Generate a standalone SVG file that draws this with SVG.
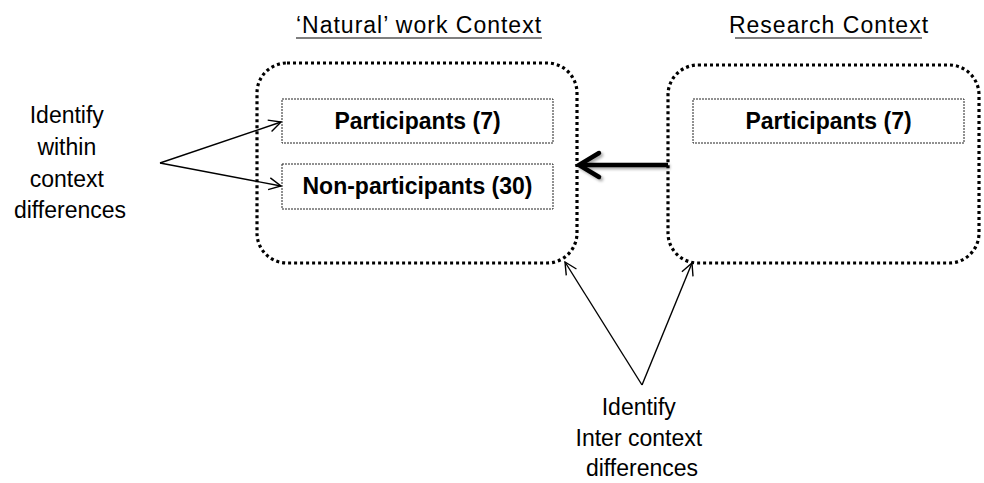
<svg xmlns="http://www.w3.org/2000/svg" width="984" height="483" viewBox="0 0 984 483">
  <style>
    .txt { font-family: "Liberation Sans", Arial, sans-serif; font-size: 23px; fill: #000; }
    .bold { font-weight: bold; }
    .title { letter-spacing: 1px; }
    .ctx { fill: none; stroke: #000; stroke-width: 3.2; stroke-dasharray: 3 3; }
    .box { fill: #fff; stroke: #222; stroke-width: 1; stroke-dasharray: 2 1; }
    .thin { fill: none; stroke: #000; stroke-width: 1.4; marker-end: url(#open); }
    .under { stroke: #000; stroke-width: 1.2; }
  </style>
  <defs>
    <marker id="open" viewBox="0 0 14 14" refX="13" refY="7" markerWidth="14" markerHeight="14" markerUnits="userSpaceOnUse" orient="auto">
      <path d="M1,1 L13,7 L1,13" fill="none" stroke="#000" stroke-width="1.4"/>
    </marker>
    <filter id="shadow" x="-20%" y="-50%" width="140%" height="200%">
      <feGaussianBlur in="SourceAlpha" stdDeviation="1.5"/>
      <feOffset dx="1.5" dy="2" result="b"/>
      <feComponentTransfer><feFuncA type="linear" slope="0.35"/></feComponentTransfer>
      <feMerge><feMergeNode/><feMergeNode in="SourceGraphic"/></feMerge>
    </filter>
  </defs>

  <rect width="984" height="483" fill="#fff"/>

  <!-- Context titles -->
  <g id="title-natural">
    <text class="txt title" x="419" y="33" text-anchor="middle">‘Natural’ work Context</text>
    <line class="under" x1="296" y1="38" x2="542" y2="38"/>
  </g>
  <g id="title-research">
    <text class="txt title" x="829" y="33" text-anchor="middle">Research Context</text>
    <line class="under" x1="735" y1="38" x2="922" y2="38"/>
  </g>

  <!-- Natural work context -->
  <g id="ctx-natural">
    <rect class="ctx" x="257" y="63" width="320" height="200" rx="30" ry="30"/>
  </g>
  <g id="natural-participants">
    <rect class="box" x="282" y="99" width="271" height="44"/>
    <text class="txt bold" x="417.5" y="129" text-anchor="middle">Participants (7)</text>
  </g>
  <g id="natural-nonparticipants">
    <rect class="box" x="282" y="164" width="271" height="45"/>
    <text class="txt bold" x="417.5" y="194" text-anchor="middle">Non-participants (30)</text>
  </g>

  <!-- Research context -->
  <g id="ctx-research">
    <rect class="ctx" x="668" y="65" width="311" height="198" rx="30" ry="30"/>
  </g>
  <g id="research-participants">
    <rect class="box" x="693" y="99" width="271" height="44"/>
    <text class="txt bold" x="828.5" y="129" text-anchor="middle">Participants (7)</text>
  </g>

  <!-- Annotations -->
  <g id="label-within">
    <text class="txt" text-anchor="middle">
      <tspan x="70" y="123">Identify</tspan>
      <tspan x="70" y="155">within</tspan>
      <tspan x="70" y="187">context</tspan>
      <tspan x="70" y="218">differences</tspan>
    </text>
  </g>
  <g id="label-inter">
    <text class="txt" text-anchor="middle">
      <tspan x="642" y="415">Identify</tspan>
      <tspan x="642" y="446">Inter context</tspan>
      <tspan x="642" y="476">differences</tspan>
    </text>
  </g>

  <!-- Connectors -->
  <g id="connectors">
    <g filter="url(#shadow)">
      <line x1="668" y1="165" x2="580" y2="165" stroke="#000" stroke-width="4.5"/>
      <path d="M599,153 L579,165 L599,177" fill="none" stroke="#000" stroke-width="4.5" stroke-linecap="round" stroke-linejoin="miter"/>
    </g>
    <line class="thin" x1="160" y1="163" x2="281" y2="122"/>
    <line class="thin" x1="160" y1="163" x2="281" y2="186"/>
    <line class="thin" x1="642" y1="385" x2="565" y2="262"/>
    <line class="thin" x1="642" y1="385" x2="692" y2="263"/>
  </g>
</svg>
